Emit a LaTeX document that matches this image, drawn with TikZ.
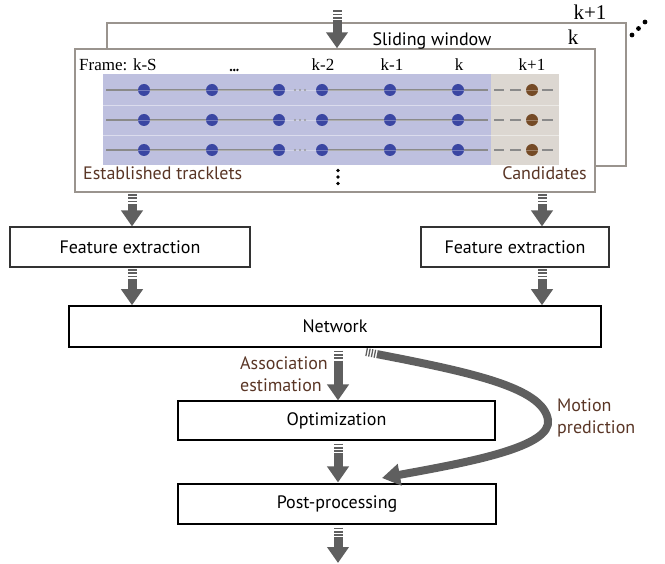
\documentclass[tikz,border=0pt]{standalone}
\usepackage{fontspec}
\setmainfont{PT Sans}
\newfontfamily\serifface{Liberation Serif}
\usetikzlibrary{arrows.meta}
\definecolor{arrowgray}{HTML}{5F5F5F}
\definecolor{framegray}{HTML}{9A948E}
\definecolor{lav}{HTML}{BEC0DF}
\definecolor{candbg}{HTML}{DCD7D1}
\definecolor{bluedot}{HTML}{3A46A2}
\definecolor{browndot}{HTML}{744A26}
\definecolor{labelbrown}{HTML}{5A3626}
\definecolor{rowgray}{HTML}{8A8A8A}
\begin{document}
\begin{tikzpicture}[x=1pt,y=-1pt,
  fat/.style={draw=arrowgray, line width=9pt, shorten <=1.5pt,
    -{Triangle[width=21pt,length=16pt]},
    dash pattern=on 1.7pt off 1.6pt on 1.7pt off 1.6pt on 1.7pt off 1.6pt on 800pt off 1pt},
  curvy/.style={draw=arrowgray, line width=8pt,
    -{Triangle[width=21pt,length=18pt]},
    dash pattern=on 1.3pt off 1.5pt on 1.3pt off 1.5pt on 1.3pt off 1.5pt on 1.3pt off 1.5pt on 800pt off 1pt},
  box/.style={draw=black!80, line width=1.1pt, fill=white, inner sep=0pt,
    font=\fontsize{18}{21}\selectfont},
  frm/.style={draw=framegray, line width=1.4pt, inner sep=0pt},
  lbl/.style={text=labelbrown, font=\fontsize{18}{22}\selectfont, inner sep=0pt, align=left},
  frlbl/.style={font=\serifface\fontsize{17}{20}\selectfont, inner sep=0pt},
  bigk/.style={font=\serifface\fontsize{21}{24}\selectfont, inner sep=0pt},
  rowline/.style={draw=rowgray, line width=2pt},
  candline/.style={draw=rowgray, line width=1.6pt},
]
\useasboundingbox (0,0) rectangle (665,564);

% sliding window frames
\node[frm, minimum width=519pt, minimum height=143pt] (back) at (366.5,94.5) {};
\node[frm, fill=white, minimum width=520pt, minimum height=143pt] (front) at (335,120.5) {};
\node[bigk, anchor=base] (kp1) at (590,20) {k+1};
\node[bigk, anchor=base] (kk) at (573,45) {k};
\node[font=\fontsize{18}{21}\selectfont, inner sep=0pt, anchor=base] (sw) at (432,46) {Sliding window};
\foreach \i/\px/\py in {1/632/35,2/638.5/28.5,3/645/22}
  \fill (\px,\py) circle (2.4pt);

% coloured regions
\fill[lav] (103,74) rectangle (491,165);
\fill[candbg] (491,74) rectangle (559,165);
\foreach \sy in {105,135}
  \draw[white, opacity=0.45, line width=0.9pt] (103,\sy) -- (559,\sy);

% frame labels
\node[frlbl, anchor=base west] (fl) at (79,71) {Frame: k-S};
\node[frlbl, anchor=base] (lk2) at (323,71) {k-2};
\node[frlbl, anchor=base] (lk1) at (392,71) {k-1};
\node[frlbl, anchor=base] (lk) at (459,71) {k};
\node[frlbl, anchor=base] (lkp) at (532,71) {k+1};
\foreach \dx in {231,234.2,237.4} \fill (\dx,70) circle (1.35pt);

% tracklet rows
\foreach \ry in {90,120,150} {
  \draw[rowline] (106,\ry) -- (285,\ry);
  \draw[rowline] (316,\ry) -- (488,\ry);
  \foreach \dx in {144,212,279,322,390,458} \fill[bluedot] (\dx,\ry) circle (6pt);
  \draw[white, opacity=0.3, line width=0.8pt] (138,\ry) -- (464,\ry);
  \foreach \gx in {295,300,305} \fill[black!40] (\gx,\ry) circle (1.1pt);
  \draw[candline] (494,\ry) -- (504,\ry);
  \draw[candline] (510,\ry) -- (521,\ry);
  \draw[candline] (542,\ry) -- (553,\ry);
  \fill[browndot] (532,\ry) circle (6pt);
  \draw[white, opacity=0.3, line width=0.8pt] (526,\ry) -- (538,\ry);
}

% bottom labels of the window
\node[lbl, anchor=base west] (est) at (83,180) {Established tracklets};
\node[lbl, anchor=base east] (cand) at (587,180) {Candidates};
\foreach \vy in {170.5,177,183.5} \fill (338,\vy) circle (1.8pt);

% processing boxes
\node[box, minimum width=240pt, minimum height=40pt] (fe1) at (130,247) {Feature extraction};
\node[box, minimum width=188pt, minimum height=40pt] (fe2) at (515,247) {Feature extraction};
\node[box, draw=black, line width=1.5pt, minimum width=532pt, minimum height=41pt] (net) at (335,326.5) {Network};
\node[box, draw=black, minimum width=317pt, minimum height=39pt] (opt) at (336.5,420.5) {Optimization};
\node[box, draw=black, minimum width=318pt, minimum height=40pt] (post) at (337,504) {Post-processing};

% helper coordinates
\coordinate (inp) at (337,9);
\coordinate (lx) at (132,0);
\coordinate (rx) at (542,0);
\coordinate (cx) at (338,0);
\coordinate (outp) at (338,563);
\coordinate (ms) at (366,352);
\coordinate (me) at (382,478);

% arrows
\draw[fat] (inp) -- (front.north -| inp);
\draw[fat] (front.south -| lx) -- (fe1.north -| lx);
\draw[fat] (front.south -| rx) -- (fe2.north -| rx);
\draw[fat] (fe1.south -| lx) -- (net.north -| lx);
\draw[fat] (fe2.south -| rx) -- (net.north -| rx);
\draw[fat] ([yshift=-1.5pt]net.south -| cx) -- (opt.north -| cx);
\draw[fat] ([yshift=-1.5pt]opt.south -| cx) -- ([yshift=1pt]post.north -| cx);
\draw[fat] ([yshift=-1.5pt]post.south -| cx) -- (outp);
\draw[curvy] (ms) .. controls (470,372) and (543,387) .. (548,420)
  .. controls (552,447) and (470,462) .. (me);

% arrow labels (anchored at the baseline of the last line)
\node[lbl, anchor=base west, align=left] (assoc) at (240,392) {Association\\estimation};
\node[lbl, anchor=base west, align=left] (motion) at (557,434) {Motion\\prediction};
\end{tikzpicture}
\end{document}
